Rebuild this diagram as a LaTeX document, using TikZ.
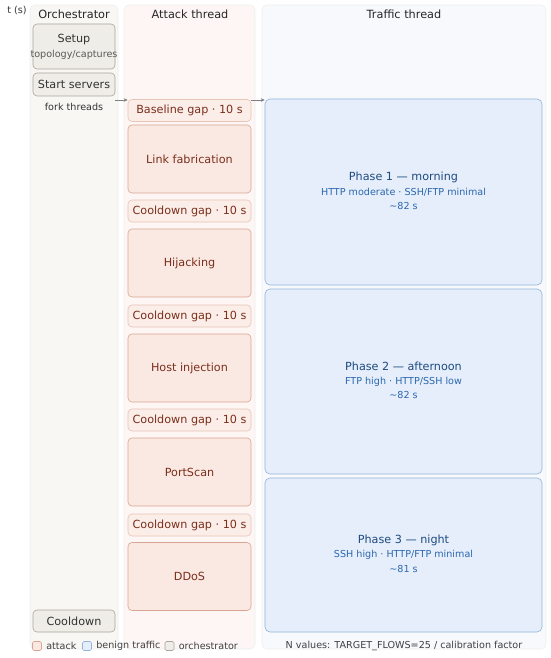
\documentclass[tikz,border=0pt]{standalone}
\usepackage{fontspec}
\setmainfont{DejaVu Sans}
\usetikzlibrary{arrows.meta,calc}
\definecolor{lanegray}{HTML}{F8F7F4}
\definecolor{lanered}{HTML}{FDF6F4}
\definecolor{laneblue}{HTML}{F7F9FC}
\definecolor{lanedraw}{HTML}{EEEEEE}
\definecolor{orchfill}{HTML}{EFEDE7}
\definecolor{orchdraw}{HTML}{A9A59C}
\definecolor{atkfill}{HTML}{FAE8E2}
\definecolor{atkdraw}{HTML}{D9A592}
\definecolor{gapfill}{HTML}{FBEDE8}
\definecolor{gapdraw}{HTML}{E8C4B7}
\definecolor{atktext}{HTML}{7B2F1C}
\definecolor{phfill}{HTML}{E5EEFA}
\definecolor{phdraw}{HTML}{92B4DA}
\definecolor{phtext}{HTML}{1E4B80}
\definecolor{phsub}{HTML}{2B67B0}
\tikzstyle{lane}=[fill=#1,draw=lanedraw,rounded corners=5pt,line width=0.6pt]
\tikzstyle{orchbox}=[draw=orchdraw,fill=orchfill,rounded corners=4pt,minimum width=82pt,inner sep=0pt,text=black!80,line width=0.6pt]
\tikzstyle{gapbox}=[draw=gapdraw,fill=gapfill,rounded corners=4pt,minimum width=123pt,minimum height=22pt,inner sep=0pt,text=atktext,line width=0.6pt]
\tikzstyle{atkbox}=[draw=atkdraw,fill=atkfill,rounded corners=4pt,minimum width=123pt,minimum height=68pt,inner sep=0pt,text=atktext,line width=0.6pt]
\tikzstyle{phasebox}=[draw=phdraw,fill=phfill,rounded corners=5pt,minimum width=277pt,inner sep=0pt,line width=0.6pt]
\tikzstyle{title}=[font=\fontsize{11.3}{13}\selectfont,text=black!85]
\tikzstyle{small}=[font=\fontsize{9.6}{11}\selectfont]
\tikzstyle{keybox}=[rounded corners=1.5pt,minimum size=9pt,inner sep=0pt,line width=0.6pt]
\tikzstyle{arr}=[draw=black!50,line width=0.6pt,-{Stealth[length=4pt,width=3.5pt]}]

\begin{document}
\begin{tikzpicture}[x=1pt,y=-1pt,font=\fontsize{11.2}{13}\selectfont]
\useasboundingbox (0,0) rectangle (550,658);

   % lanes
   \draw[lane=lanegray] (30,5) rectangle (118,649);
   \draw[lane=lanered] (124,5) rectangle (255,649);
   \draw[lane=laneblue] (262,5) rectangle (546,649);

   \node[small,text=black!80] (tlabel) at (17,10) {t (s)};
   \node[title] (orchtitle) at (74,14) {Orchestrator};
   \node[title] (atktitle) at (190,14) {Attack thread};
   \node[title] (traffictitle) at (404,14) {Traffic thread};

   % orchestrator
   \node[orchbox,minimum height=45pt] (setup) at (74,46.5) {};
   \node[text=black!80] (setuptext) at (74,40) {Setup};
   \node[small,text=black!65] (setupsub) at (74,55) {topology/captures};
   \node[orchbox,minimum height=23pt] (start) at (74,84.5) {Start servers};
   \node[small,text=black!80] (forktext) at (74,107) {fork threads};
   \node[orchbox,minimum height=22pt] (cooldown) at (74,621) {Cooldown};

   % attack thread
   \foreach \pos/ \name / \label in {{(189.5,110.5)/base/Baseline gap · 10 s},
        {(189.5,211)/gap1/Cooldown gap · 10 s}, {(189.5,316)/gap2/Cooldown gap · 10 s},
        {(189.5,420)/gap3/Cooldown gap · 10 s}, {(189.5,525)/gap4/Cooldown gap · 10 s}}
        \node[gapbox] (\name) at \pos {\label};
   \foreach \pos/ \name / \label in {{(189.5,159)/link/Link fabrication},
        {(189.5,263)/hijack/Hijacking}, {(189.5,368)/inject/Host injection},
        {(189.5,472)/portscan/PortScan}, {(189.5,576.5)/ddos/DDoS}}
        \node[atkbox] (\name) at \pos {\label};

   % traffic thread
   \foreach \pos/ \name / \h in {{(403.5,192)/ph1/186}, {(403.5,381.5)/ph2/185}, {(403.5,555)/ph3/154}}
        \node[phasebox,minimum height=\h pt] (\name) at \pos {};
   \foreach \name / \label / \sub / \dur in {ph1/Phase 1 — morning/{HTTP moderate · SSH/FTP minimal}/82,
        ph2/Phase 2 — afternoon/{FTP high · HTTP/SSH low}/82, ph3/Phase 3 — night/{SSH high · HTTP/FTP minimal}/81}
   {
        \node[text=phtext] (\name title) at ($(\name.center)+(0,-15)$) {\label};
        \node[small,text=phsub] (\name sub) at (\name.center) {\sub};
        \node[small,text=phsub] (\name dur) at ($(\name.center)+(0,14)$) {\textasciitilde\dur\ s};
   }

   % fork arrows
   \coordinate (fork) at (115,100);
   \draw[arr] (fork) -- (fork -| base.west);
   \draw[arr] (fork -| base.east) -- (fork -| ph1.west);

   % legend
   \node[keybox,draw=atkdraw,fill=atkfill] (keyatk) at (37,646) {};
   \node[small,text=black!75,right=1pt] (keyatktext) at (keyatk.east) {attack};
   \node[keybox,draw=phdraw,fill=phfill] (keyben) at (87,646) {};
   \node[small,text=black!75,right=1pt] (keybentext) at (keyben.east) {benign traffic};
   \node[keybox,draw=orchdraw,fill=orchfill] (keyorch) at (169.5,646) {};
   \node[small,text=black!75,right=1pt] (keyorchtext) at (keyorch.east) {orchestrator};
   \node[small,text=black!75] (nvalues) at (404,646) {N values: TARGET\_FLOWS=25 / calibration factor};

\end{tikzpicture}
\end{document}
